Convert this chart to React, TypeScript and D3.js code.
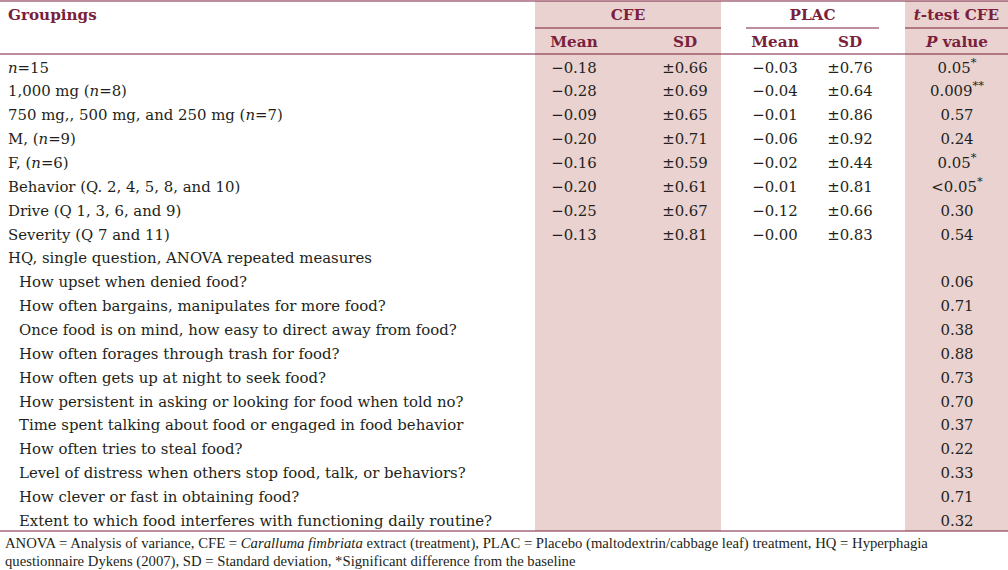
import React from "react";
import * as d3 from "d3";

// ---------- data ----------
const groupLabels = [
  "_n_=15",
  "1,000 mg (_n_=8)",
  "750 mg,, 500 mg, and 250 mg (_n_=7)",
  "M, (_n_=9)",
  "F, (_n_=6)",
  "Behavior (Q. 2, 4, 5, 8, and 10)",
  "Drive (Q 1, 3, 6, and 9)",
  "Severity (Q 7 and 11)",
];
const cfeMean = [-0.18, -0.28, -0.09, -0.2, -0.16, -0.2, -0.25, -0.13];
const cfeSD = [0.66, 0.69, 0.65, 0.71, 0.59, 0.61, 0.67, 0.81];
const placMean = [-0.03, -0.04, -0.01, -0.06, -0.02, -0.01, -0.12, -0.0];
const placSD = [0.76, 0.64, 0.86, 0.92, 0.44, 0.81, 0.66, 0.83];
const groupP = ["0.05*", "0.009**", "0.57", "0.24", "0.05*", "<0.05*", "0.30", "0.54"];

const hqHeading = "HQ, single question, ANOVA repeated measures";
const hqQuestions = [
  "How upset when denied food?",
  "How often bargains, manipulates for more food?",
  "Once food is on mind, how easy to direct away from food?",
  "How often forages through trash for food?",
  "How often gets up at night to seek food?",
  "How persistent in asking or looking for food when told no?",
  "Time spent talking about food or engaged in food behavior",
  "How often tries to steal food?",
  "Level of distress when others stop food, talk, or behaviors?",
  "How clever or fast in obtaining food?",
  "Extent to which food interferes with functioning daily routine?",
];
const hqP = ["0.06", "0.71", "0.38", "0.88", "0.73", "0.70", "0.37", "0.22", "0.33", "0.71", "0.32"];

const footLine1 = [
  "ANOVA = Analysis of variance, CFE = ",
  "_Caralluma fimbriata_",
  " extract (treatment), PLAC = Placebo (maltodextrin/cabbage leaf) treatment, HQ = Hyperphagia",
].join("");
const footLine2 = "questionnaire Dykens (2007), SD = Standard deviation, *Significant difference from the baseline";

// ---------- style ----------
const W = 1008;
const H = 570;
const MAROON = "#7a1f3c";
const SHADE = "#e9d2d0";
const TXT = "#231f20";
const FONT = "'DejaVu Serif', serif";
const FOOTFONT = "'Liberation Serif', serif";

const fmtMean = (v: number) => (v <= 0 ? "\u2212" : "") + d3.format(".2f")(Math.abs(v));
const fmtSD = (v: number) => "\u00b1" + d3.format(".2f")(v);

function Italicized({ s }: { s: string }) {
  const parts = s.split("_");
  return (
    <>
      {parts.map((p, i) =>
        i % 2 === 1 ? (
          <tspan key={i} fontStyle="italic">
            {p}
          </tspan>
        ) : (
          <tspan key={i}>{p}</tspan>
        )
      )}
    </>
  );
}

function PVal({ s }: { s: string }) {
  const m = s.match(/^(.*?)(\**)$/);
  const base = m ? m[1] : s;
  const stars = m ? m[2] : "";
  return (
    <>
      <tspan>{base}</tspan>
      {stars && (
        <tspan fontSize={11.5} baselineShift="super">
          {stars}
        </tspan>
      )}
    </>
  );
}

type Row = { label: string; indent: boolean; cm?: number; cs?: number; pm?: number; ps?: number; p?: string };

const rows: Row[] = [
  ...groupLabels.map((label, i) => ({
    label,
    indent: false,
    cm: cfeMean[i],
    cs: cfeSD[i],
    pm: placMean[i],
    ps: placSD[i],
    p: groupP[i],
  })),
  { label: hqHeading, indent: false },
  ...hqQuestions.map((label, i) => ({ label, indent: true, p: hqP[i] })),
];

export default function App() {
  const top = 1;
  const sub = 28;
  const head = 54;
  const bottom = 531;

  const y = d3
    .scaleBand<number>()
    .domain(d3.range(rows.length))
    .range([head, bottom]);
  const bw = y.bandwidth();

  const col = d3
    .scaleOrdinal<string, number>()
    .domain(["cm", "cs", "pm", "ps", "p"])
    .range([574, 685, 775, 850, 957]);

  const cfeBand: [number, number] = [535, 721];
  const pBand: [number, number] = [905, 1008];
  const placLine: [number, number] = [746, 879];

  const fs = 14.9;
  const hfs = 15.2;

  return (
    <svg
      width={W}
      height={H}
      style={{ position: "absolute", left: 0, top: 0, background: "#fff" }}
      fontFamily={FONT}
    >
      <rect x={0} y={0} width={W} height={H} fill="#fff" />
      {/* shaded columns */}
      <rect x={cfeBand[0]} y={top} width={cfeBand[1] - cfeBand[0]} height={bottom - top} fill={SHADE} />
      <rect x={pBand[0]} y={top} width={pBand[1] - pBand[0]} height={bottom - top} fill={SHADE} />

      {/* rules */}
      <line x1={0} x2={W} y1={top} y2={top} stroke={MAROON} strokeWidth={1.2} />
      <line x1={0} x2={W} y1={head} y2={head} stroke={MAROON} strokeWidth={1.2} />
      <line x1={0} x2={W} y1={bottom} y2={bottom} stroke={MAROON} strokeWidth={1.2} />
      <line x1={cfeBand[0]} x2={cfeBand[1]} y1={sub} y2={sub} stroke={MAROON} strokeWidth={1} />
      <line x1={placLine[0]} x2={placLine[1]} y1={sub} y2={sub} stroke={MAROON} strokeWidth={1} />
      <line x1={pBand[0]} x2={pBand[1]} y1={sub} y2={sub} stroke={MAROON} strokeWidth={1} />

      {/* headers */}
      <g fill={MAROON} fontWeight="bold" fontSize={hfs}>
        <text x={8} y={20}>Groupings</text>
        <text x={(cfeBand[0] + cfeBand[1]) / 2} y={20} textAnchor="middle">CFE</text>
        <text x={(placLine[0] + placLine[1]) / 2} y={20} textAnchor="middle">PLAC</text>
        <text x={(pBand[0] + pBand[1]) / 2} y={20} textAnchor="middle">
          <tspan fontStyle="italic">t</tspan>-test CFE
        </text>
        <text x={col("cm")} y={47} textAnchor="middle">Mean</text>
        <text x={col("cs")} y={47} textAnchor="middle">SD</text>
        <text x={col("pm")} y={47} textAnchor="middle">Mean</text>
        <text x={col("ps")} y={47} textAnchor="middle">SD</text>
        <text x={col("p")} y={47} textAnchor="middle">
          <tspan fontStyle="italic">P</tspan> value
        </text>
      </g>

      {/* body */}
      <g fill={TXT} fontSize={fs}>
        {rows.map((r, i) => {
          const by = (y(i) as number) + bw * 0.78;
          return (
            <g key={i}>
              <text x={r.indent ? 19 : 8} y={by}>
                <Italicized s={r.label} />
              </text>
              {r.cm !== undefined && (
                <text x={col("cm")} y={by} textAnchor="middle">{fmtMean(r.cm)}</text>
              )}
              {r.cs !== undefined && (
                <text x={col("cs")} y={by} textAnchor="middle">{fmtSD(r.cs)}</text>
              )}
              {r.pm !== undefined && (
                <text x={col("pm")} y={by} textAnchor="middle">{fmtMean(r.pm)}</text>
              )}
              {r.ps !== undefined && (
                <text x={col("ps")} y={by} textAnchor="middle">{fmtSD(r.ps)}</text>
              )}
              {r.p !== undefined && (
                <text x={col("p")} y={by} textAnchor="middle">
                  <PVal s={r.p} />
                </text>
              )}
            </g>
          );
        })}
      </g>

      {/* footnote */}
      <g fill={TXT} fontSize={14.7} fontFamily={FOOTFONT}>
        <text x={5} y={548}>
          <Italicized s={footLine1} />
        </text>
        <text x={5} y={566}>{footLine2}</text>
      </g>
    </svg>
  );
}
